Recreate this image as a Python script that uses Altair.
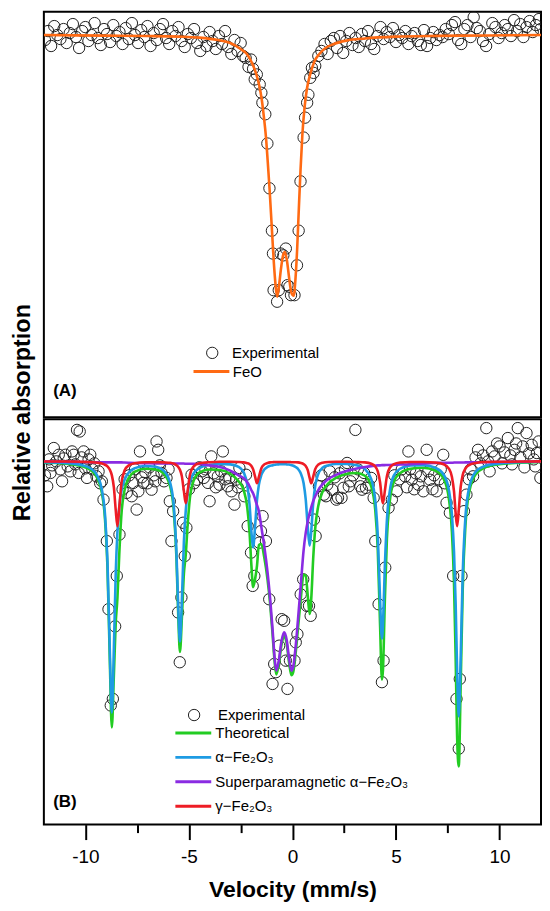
import altair as alt
import pandas as pd

# ---------------- data ----------------
# Panel (A): experimental points
A_exp_vel = [
    -11.95, -11.8, -11.65, -11.5, -11.35, -11.2, -11.05, -10.9, -10.75, -10.6,
    -10.45, -10.3, -10.15, -10.0, -9.85, -9.7, -9.55, -9.4, -9.25, -9.1,
    -8.95, -8.8, -8.65, -8.5, -8.35, -8.2, -8.05, -7.9, -7.75, -7.6,
    -7.45, -7.3, -7.15, -7.0, -6.85, -6.7, -6.55, -6.4, -6.25, -6.1,
    -5.95, -5.8, -5.65, -5.5, -5.35, -5.2, -5.05, -4.9, -4.75, -4.6,
    -4.45, -4.3, -4.15, -4.0, -3.85, -3.7, -3.55, -3.4, -3.25, -3.1,
    -2.95, -2.8, -2.65, -2.5, -2.38,
    -2.26, -2.12, -2.0, -1.9, -1.82, -1.72, -1.58, -1.5, -1.45, -1.31,
    -1.21, -1.11, -0.99, -0.94, -0.91, -0.74, -0.66, -0.57, -0.44, -0.32,
    -0.24, -0.15, -0.07, 0.1, 0.22, 0.3, 0.39, 0.54, 0.61, 0.71,
    0.77, 0.86, 0.94, 1.02,
    1.1, 1.25, 1.4, 1.55, 1.7, 1.85, 2.0, 2.15, 2.3, 2.45,
    2.6, 2.75, 2.9, 3.05, 3.2, 3.35, 3.5, 3.65, 3.8, 3.95,
    4.1, 4.25, 4.4, 4.55, 4.7, 4.85, 5.0, 5.15, 5.3, 5.45,
    5.6, 5.75, 5.9, 6.05, 6.2, 6.35, 6.5, 6.65, 6.8, 6.95,
    7.1, 7.25, 7.4, 7.55, 7.7, 7.85, 8.0, 8.15, 8.3, 8.45,
    8.6, 8.75, 8.9, 9.05, 9.2, 9.35, 9.5, 9.65, 9.8, 9.95,
    10.1, 10.25, 10.4, 10.55, 10.7, 10.85, 11.0, 11.15, 11.3, 11.45,
    11.6, 11.75, 11.9, 11.98,
]
A_exp_abs = [
    99.75, 100.2, 99.45, 100.45, 100.0, 99.8, 100.3, 99.6, 100.1, 100.55,
    99.9, 99.35, 100.2, 100.4, 99.7, 100.0, 100.6, 99.85, 99.5, 100.3,
    100.05, 99.65, 100.5, 99.95, 100.15, 99.55, 100.35, 99.8, 100.6, 100.0,
    99.6, 100.25, 99.9, 100.45, 99.45, 100.1, 99.75, 100.3, 100.55, 99.85,
    99.55, 100.2, 99.95, 100.4, 99.7, 99.4, 100.05, 99.85, 100.3, 99.6,
    99.2, 99.9, 99.45, 100.15, 99.7, 99.3, 99.95, 99.55, 100.2, 99.4,
    99.05, 99.75, 99.2, 99.6, 98.95,
    98.85, 98.4, 98.77, 98.3, 97.77, 98.02, 97.52, 97.1, 96.6, 96.02,
    94.55, 92.3, 90.17, 89.02, 87.18, 86.6, 87.18, 89.02, 88.93, 89.27,
    87.43, 87.35, 86.93, 86.93, 88.43, 90.17, 92.65, 94.85, 95.85, 96.6,
    97.0, 97.85, 98.35, 98.1,
    98.45, 98.95, 99.2, 99.55, 99.05, 99.7, 99.85, 99.35, 99.95, 99.1,
    99.7, 100.1, 99.5, 99.85, 99.4, 100.05, 99.7, 100.2, 99.55, 99.3,
    99.95, 100.4, 99.8, 100.15, 99.9, 100.35, 99.65, 100.0, 99.85, 100.2,
    99.55, 99.95, 100.1, 99.7, 99.5, 100.25, 99.45, 99.85, 100.15, 99.75,
    100.0, 99.9, 100.3, 100.05, 100.5, 100.65, 99.75, 99.55, 100.3, 100.5,
    99.9, 100.9, 100.35, 100.2, 99.7, 99.45, 100.05, 100.6, 100.4, 99.85,
    100.1, 100.5, 100.3, 99.95, 100.75, 100.2, 100.55, 99.9, 100.4, 100.7,
    100.15, 100.5, 100.8, 100.3,
]

# Panel (A): FeO fitted doublet
A_fit_vel = [
    -12.0, -9.0, -7.0, -5.5, -4.5, -3.6, -3.0, -2.5, -2.2, -1.95,
    -1.75, -1.6, -1.48, -1.38, -1.28, -1.19, -1.1, -1.0, -0.9, -0.82,
    -0.74, -0.66, -0.56, -0.46, -0.37, -0.27, -0.16, -0.05, 0.06, 0.15,
    0.23, 0.31, 0.39, 0.48, 0.58, 0.7, 0.85, 1.05, 1.3, 1.6,
    2.0, 2.6, 3.5, 5.0, 7.0, 9.5, 12.0,
]
A_fit_abs = [
    100.0, 99.97, 99.95, 99.92, 99.87, 99.75, 99.6, 99.3, 99.05, 98.6,
    98.05, 97.45, 96.75, 95.9, 94.9, 93.6, 92.2, 90.4, 88.6, 87.5,
    86.85, 87.3, 88.2, 88.9, 89.1, 88.7, 87.8, 87.05, 86.9, 87.8,
    89.3, 91.3, 93.2, 95.0, 96.3, 97.3, 98.0, 98.65, 99.05, 99.35,
    99.55, 99.72, 99.83, 99.92, 99.96, 99.98, 100.0,
]

# Panel (B): experimental points
B_exp_vel = [
    -11.95, -11.84, -11.75, -11.68, -11.6, -11.52, -11.4, -11.28, -11.2, -11.12,
    -11.04, -10.96, -10.85, -10.72, -10.64, -10.56, -10.48, -10.4, -10.32, -10.27,
    -10.18, -10.08, -10.0, -9.92, -9.84, -9.76, -9.66, -9.56, -9.46, -9.36,
    -9.28, -9.2, -9.12, -8.96, -8.88, -8.77, -8.67, -8.56, -8.48, -8.35,
    -8.2, -8.1, -8.0, -7.88, -7.76, -7.68, -7.6, -7.52, -7.44, -7.36,
    -7.28, -7.2, -7.1, -7.0, -6.9, -6.8, -6.7, -6.62, -6.56, -6.48,
    -6.4, -6.32, -6.2, -6.08, -5.98, -5.92, -5.84, -5.76, -5.52, -5.44,
    -5.36, -5.28, -5.2, -5.12, -5.0, -4.87, -4.75, -4.61, -4.5, -4.36,
    -4.28, -4.2, -4.08, -4.0, -3.92, -3.8, -3.7, -3.6, -3.52, -3.44,
    -3.36, -3.24, -3.12, -3.04, -2.94, -2.8, -2.72, -2.64, -2.56, -2.45,
    -2.32, -2.24, -2.16, -2.0, -1.92, -1.84, -1.6, -1.52, -1.44, -1.28,
    -1.12, -0.96, -0.88, -0.8, -0.64, -0.52, -0.4, -0.32, -0.24, -0.12,
    0.1, 0.16, 0.24, 0.4, 0.52, 0.69, 0.8, 0.88, 1.04, 1.12,
    1.28, 1.4, 1.52, 1.62, 1.68, 1.8, 1.92, 2.04, 2.12, 2.2,
    2.28, 2.37, 2.46, 2.54, 2.64, 2.72, 2.8, 2.92, 3.04, 3.16,
    3.28, 3.36, 3.46, 3.55, 3.68, 3.8, 3.92, 4.0, 4.16, 4.32,
    4.4, 4.48, 4.64, 4.8, 4.92, 5.04, 5.16, 5.28, 5.44, 5.52,
    5.6, 5.68, 5.76, 5.88, 5.96, 6.08, 6.2, 6.32, 6.48, 6.56,
    6.64, 6.76, 6.84, 6.96, 7.08, 7.16, 7.28, 7.36, 7.44, 7.6,
    7.76, 7.92, 8.03, 8.08, 8.16, 8.28, 8.4, 8.52, 8.6, 8.72,
    8.84, 8.96, 9.08, 9.2, 9.36, 9.44, 9.52, 9.64, 9.76, 9.88,
    10.0, 10.12, 10.24, 10.4, 10.52, 10.6, 10.72, 10.8, 10.88, 11.0,
    11.12, 11.2, 11.3, 11.42, 11.55, 11.65, 11.72, 11.8, 11.89, 11.97,
]
B_exp_abs = [
    99.3, 98.75, 100.1, 99.42, 99.8, 100.67, 100.0, 100.33, 99.6, 99.0,
    100.15, 100.33, 99.75, 99.5, 100.5, 100.33, 99.85, 101.58, 99.42, 101.5,
    100.2, 100.5, 99.65, 99.17, 100.1, 100.33, 99.6, 99.9, 99.25, 99.5,
    98.9, 99.0, 98.08, 96.0, 92.58, 87.75, 88.08, 91.72, 94.25, 96.33,
    98.6, 99.1, 98.42, 99.3, 98.25, 98.92, 99.6, 97.58, 98.5, 100.5,
    99.2, 98.92, 99.45, 98.9, 99.7, 98.58, 99.3, 99.0, 101.0, 100.58,
    99.8, 99.42, 99.0, 99.17, 99.6, 98.0, 96.0, 97.5, 92.42, 89.92,
    93.17, 96.92, 95.25, 96.67, 98.6, 99.33, 98.9, 99.08, 99.7, 99.5,
    99.17, 99.6, 98.92, 98.0, 100.25, 99.4, 98.7, 99.25, 98.83, 99.5,
    100.5, 99.1, 98.75, 99.17, 98.5, 97.83, 99.08, 98.7, 99.67, 98.9,
    98.25, 99.33, 96.75, 95.42, 93.75, 94.25, 95.92, 96.5, 97.25, 96.0,
    93.08, 88.83, 89.83, 89.42, 90.75, 92.08, 92.0, 90.0, 88.58, 90.0,
    90.0, 90.92, 91.33, 93.33, 94.08, 92.75, 92.75, 92.25, 97.08, 96.25,
    98.75, 99.3, 98.33, 98.25, 98.83, 99.5, 98.58, 99.2, 98.08, 98.17,
    99.4, 98.17, 98.67, 99.6, 99.92, 98.75, 99.0, 99.3, 101.58, 99.6,
    98.75, 98.58, 99.42, 98.67, 98.83, 99.17, 98.17, 96.0, 92.83, 88.92,
    90.0, 94.67, 97.67, 98.08, 99.3, 98.5, 99.1, 99.6, 99.25, 98.7,
    100.5, 99.6, 99.08, 98.6, 99.4, 98.83, 99.25, 98.5, 100.58, 99.5,
    99.08, 98.6, 99.3, 98.5, 99.1, 99.6, 100.33, 98.9, 97.92, 97.42,
    94.25, 88.08, 85.58, 89.08, 94.25, 97.5, 98.33, 99.1, 99.6, 99.25,
    100.2, 100.58, 99.9, 100.3, 101.67, 100.0, 99.5, 100.5, 100.25, 100.9,
    100.75, 99.9, 100.45, 101.17, 100.3, 99.85, 100.58, 100.9, 101.67, 100.2,
    100.75, 99.7, 101.42, 100.4, 100.83, 100.1, 99.75, 100.42, 101.0, 99.17,
]

# Panel (B): fitted components on one velocity grid
B_fit_vel = [
    -12.0, -11.0, -10.2, -9.7, -9.4, -9.2, -9.05, -8.93, -8.82, -8.72,
    -8.62, -8.53, -8.45, -8.36, -8.25, -8.1, -7.9, -7.6, -7.1, -6.6,
    -6.2, -5.9, -5.72, -5.6, -5.51, -5.43, -5.34, -5.24, -5.15, -5.06,
    -4.95, -4.78, -4.5, -4.0, -3.5, -3.0, -2.6, -2.35, -2.18, -2.07,
    -1.98, -1.9, -1.8, -1.71, -1.62, -1.5, -1.36, -1.2, -1.08, -0.96,
    -0.86, -0.78, -0.66, -0.52, -0.4, -0.28, -0.16, -0.05, 0.04, 0.15,
    0.27, 0.4, 0.54, 0.64, 0.74, 0.83, 0.91, 1.0, 1.1, 1.24,
    1.45, 1.75, 2.1, 2.6, 3.1, 3.5, 3.8, 4.0, 4.12, 4.23,
    4.32, 4.37, 4.46, 4.56, 4.7, 4.9, 5.2, 5.7, 6.3, 6.9,
    7.3, 7.55, 7.7, 7.8, 7.88, 7.95, 8.03, 8.12, 8.22, 8.35,
    8.55, 8.85, 9.3, 10.0, 11.0, 12.0,
]
B_theoretical = [
    99.95, 99.89, 99.77, 99.54, 99.12, 98.42, 97.13, 94.7, 90.17, 86.65,
    89.28, 91.9, 93.12, 95.34, 97.42, 98.57, 99.17, 99.49, 99.63, 99.59,
    99.37, 98.73, 97.43, 95.16, 92.19, 90.43, 92.09, 94.36, 95.32, 96.8,
    98.16, 99.0, 99.44, 99.59, 99.57, 99.37, 99.0, 98.54, 97.68, 96.44,
    94.77, 93.69, 94.11, 94.77, 95.8, 95.85, 95.19, 94.06, 92.88, 91.34,
    89.95, 89.31, 89.82, 90.85, 91.25, 90.87, 89.89, 89.27, 89.44, 90.33,
    91.65, 93.07, 94.31, 94.27, 93.26, 92.34, 93.13, 95.09, 96.64, 97.73,
    98.46, 98.91, 99.17, 99.37, 99.42, 99.28, 98.76, 97.55, 95.56, 91.81,
    89.04, 89.52, 92.98, 96.11, 98.01, 98.99, 99.41, 99.63, 99.68, 99.54,
    99.12, 98.15, 96.46, 93.9, 90.17, 86.19, 84.69, 88.66, 93.55, 96.76,
    98.54, 99.35, 99.7, 99.86, 99.93, 99.97,
]
B_alpha = [
    99.96, 99.92, 99.82, 99.62, 99.24, 98.58, 97.35, 95.0, 90.63, 87.39,
    90.63, 94.4, 96.42, 97.7, 98.54, 99.08, 99.44, 99.66, 99.77, 99.73,
    99.52, 98.91, 97.66, 95.46, 92.58, 90.96, 92.94, 95.96, 97.53, 98.4,
    98.97, 99.38, 99.66, 99.83, 99.87, 99.85, 99.73, 99.44, 98.82, 97.83,
    96.45, 95.68, 96.79, 98.07, 98.82, 99.32, 99.59, 99.72, 99.78, 99.8,
    99.83, 99.84, 99.85, 99.86, 99.86, 99.85, 99.84, 99.81, 99.78, 99.72,
    99.62, 99.4, 98.9, 98.1, 96.7, 95.77, 96.53, 97.87, 98.78, 99.35,
    99.68, 99.81, 99.87, 99.87, 99.8, 99.61, 99.12, 98.03, 96.26, 93.06,
    91.1, 91.81, 94.66, 97.03, 98.51, 99.3, 99.63, 99.8, 99.81, 99.68,
    99.33, 98.58, 97.31, 95.48, 92.83, 89.5, 87.2, 90.02, 94.3, 97.18,
    98.76, 99.48, 99.77, 99.9, 99.96, 99.98,
]
B_spm = [
    100.0, 99.98, 99.97, 99.96, 99.95, 99.95, 99.95, 99.95, 99.95, 99.95,
    99.95, 99.95, 99.95, 99.95, 99.95, 99.94, 99.93, 99.92, 99.91, 99.9,
    99.9, 99.89, 99.89, 99.89, 99.89, 99.89, 99.89, 99.89, 99.88, 99.88,
    99.88, 99.88, 99.87, 99.8, 99.72, 99.54, 99.3, 99.15, 98.95, 98.75,
    98.55, 98.4, 98.1, 97.8, 97.5, 96.7, 95.75, 94.42, 93.15, 91.58,
    90.15, 89.5, 90.0, 91.02, 91.42, 91.05, 90.08, 89.5, 89.7, 90.65,
    92.08, 93.75, 95.55, 96.4, 97.0, 97.4, 97.7, 98.0, 98.25, 98.55,
    98.85, 99.13, 99.32, 99.52, 99.64, 99.72, 99.76, 99.78, 99.8, 99.8,
    99.81, 99.81, 99.81, 99.82, 99.82, 99.83, 99.84, 99.86, 99.9, 99.92,
    99.93, 99.93, 99.93, 99.94, 99.94, 99.94, 99.94, 99.94, 99.94, 99.95,
    99.95, 99.95, 99.96, 99.97, 99.98, 100.0,
]
B_gamma = [
    99.99, 99.99, 99.98, 99.96, 99.93, 99.89, 99.83, 99.75, 99.59, 99.31,
    98.69, 97.55, 96.75, 97.69, 98.93, 99.55, 99.8, 99.91, 99.96, 99.96,
    99.95, 99.93, 99.88, 99.81, 99.72, 99.58, 99.26, 98.51, 97.9, 98.51,
    99.31, 99.74, 99.91, 99.96, 99.98, 99.98, 99.97, 99.95, 99.91, 99.86,
    99.77, 99.61, 99.22, 98.9, 99.22, 99.66, 99.85, 99.92, 99.95, 99.96,
    99.97, 99.97, 99.97, 99.97, 99.97, 99.97, 99.97, 99.96, 99.96, 99.96,
    99.95, 99.92, 99.86, 99.77, 99.56, 99.17, 98.9, 99.22, 99.61, 99.83,
    99.93, 99.97, 99.98, 99.98, 99.97, 99.95, 99.88, 99.74, 99.5, 98.95,
    98.13, 97.9, 98.51, 99.26, 99.68, 99.86, 99.94, 99.97, 99.97, 99.94,
    99.86, 99.64, 99.22, 98.49, 97.4, 96.75, 97.55, 98.7, 99.31, 99.64,
    99.83, 99.92, 99.97, 99.98, 99.99, 100.0,
]

EXP_LABEL = "Experimental"
SERIES_A = ["FeO"]
COLORS_A = ["#FF6A13"]
SERIES_B = ["Theoretical", "α−Fe₂O₃", "Superparamagnetic α−Fe₂O₃", "γ−Fe₂O₃"]
COLORS_B = ["#22CC22", "#1E9BE3", "#8A2BE2", "#EE1C25"]
PANEL_LABELS = ["(A)", "(B)"]
TICK_VALUES = [-10, -7.5, -5, -2.5, 0, 2.5, 5, 7.5, 10]

# ---------------- layout / style ----------------
FONT = "Liberation Sans"
X_DOMAIN = [-12, 12]
Y_DOMAIN_A = [80.8, 101.175]
Y_DOMAIN_B = [81.77, 102.12]
PANEL_W, PANEL_H = 499, 407
POINT_COLOR = "#222222"
POINT_SIZE = 130

dfA_exp = pd.DataFrame({"v": A_exp_vel, "y": A_exp_abs, "s": EXP_LABEL})
dfA_fit = pd.DataFrame({"v": A_fit_vel, "y": A_fit_abs, "s": SERIES_A[0]})
dfB_exp = pd.DataFrame({"v": B_exp_vel, "y": B_exp_abs, "s": EXP_LABEL})
dfB_fit = pd.concat(
    [pd.DataFrame({"v": B_fit_vel, "y": vals, "s": name})
     for name, vals in zip(SERIES_B, [B_theoretical, B_alpha, B_spm, B_gamma])],
    ignore_index=True,
)

x_axis_b = alt.Axis(
    values=TICK_VALUES,
    labelExpr="datum.value % 5 === 0 ? '' + datum.value : ''",
    tickSize={"condition": {"test": "datum.value % 5 === 0", "value": 15}, "value": 8},
    tickWidth=2, tickColor="black", domain=False, grid=False,
    labelFont=FONT, labelFontSize=19, labelColor="black", labelPadding=8,
    labelOverlap=False, labelFlush=False,
    title="Velocity (mm/s)", titleFont=FONT, titleFontSize=23,
    titleFontWeight="bold", titleColor="black", titlePadding=12,
)


def x_enc(axis):
    return alt.X("v:Q", scale=alt.Scale(domain=X_DOMAIN, nice=False, zero=False), axis=axis)


def y_enc(domain):
    return alt.Y("y:Q", scale=alt.Scale(domain=domain, nice=False, zero=False), axis=None)


def exp_legend(lx, ly, off):
    return alt.Legend(orient="none", legendX=lx, legendY=ly, title=None,
                      labelFont=FONT, labelFontSize=15, labelColor="black",
                      symbolSize=POINT_SIZE, symbolStrokeWidth=1, symbolStrokeColor=POINT_COLOR,
                      symbolFillColor="transparent", labelOffset=off, padding=0)


def line_legend(lx, ly, off):
    return alt.Legend(orient="none", legendX=lx, legendY=ly, title=None,
                      labelFont=FONT, labelFontSize=15, labelColor="black",
                      symbolType="M-3,0L3,0", symbolSize=144, symbolStrokeWidth=3,
                      labelOffset=off, rowPadding=8.5, padding=0, labelLimit=400)


def panel(df_exp, df_fit, series, colors, ydom, axis, leg_exp, leg_line, label, label_y):
    pts = alt.Chart(df_exp).mark_point(
        shape="circle", filled=False, size=POINT_SIZE, strokeWidth=1,
        color=POINT_COLOR, opacity=1, clip=True
    ).encode(
        x=x_enc(axis), y=y_enc(ydom),
        shape=alt.Shape("s:N", scale=alt.Scale(domain=[EXP_LABEL], range=["circle"]), legend=leg_exp),
    )
    fit = alt.Chart(df_fit).mark_line(strokeWidth=2.6, interpolate="monotone", clip=True).encode(
        x=x_enc(axis), y=y_enc(ydom),
        color=alt.Color("s:N", scale=alt.Scale(domain=series, range=colors), legend=leg_line),
    )
    lab = alt.Chart(pd.DataFrame({"t": [label]})).mark_text(
        align="left", baseline="middle", font=FONT, fontSize=17,
        fontWeight="bold", color="black"
    ).encode(text="t:N", x=alt.value(9.3), y=alt.value(label_y))
    return alt.layer(pts, fit, lab).properties(width=PANEL_W, height=PANEL_H)


panelA = panel(dfA_exp, dfA_fit, SERIES_A, COLORS_A, Y_DOMAIN_A, None,
               exp_legend(161.5, 335.0, 12.3), line_legend(160.7, 353.8, 13.9),
               PANEL_LABELS[0], 380.5)
panelB = panel(dfB_exp, dfB_fit, SERIES_B, COLORS_B, Y_DOMAIN_B, x_axis_b,
               exp_legend(143.3, 289.5, 16.4), line_legend(142.5, 307.5, 14.6),
               PANEL_LABELS[1], 384.8)

chart = alt.vconcat(panelA, panelB, spacing=0).resolve_scale(
    x="independent", y="independent", color="independent", shape="independent"
).resolve_legend(color="independent", shape="independent").properties(
    title=alt.TitleParams(text="Relative absorption", orient="left", anchor="middle",
                          font=FONT, fontSize=23.5, fontWeight="bold", color="black",
                          offset=8, dx=44),
    padding={"left": 3, "top": 1, "right": 0, "bottom": 0},
).configure(font=FONT).configure_view(stroke="black", strokeWidth=2)

chart.save("out.html", embed_options={"renderer": "svg", "actions": False})
